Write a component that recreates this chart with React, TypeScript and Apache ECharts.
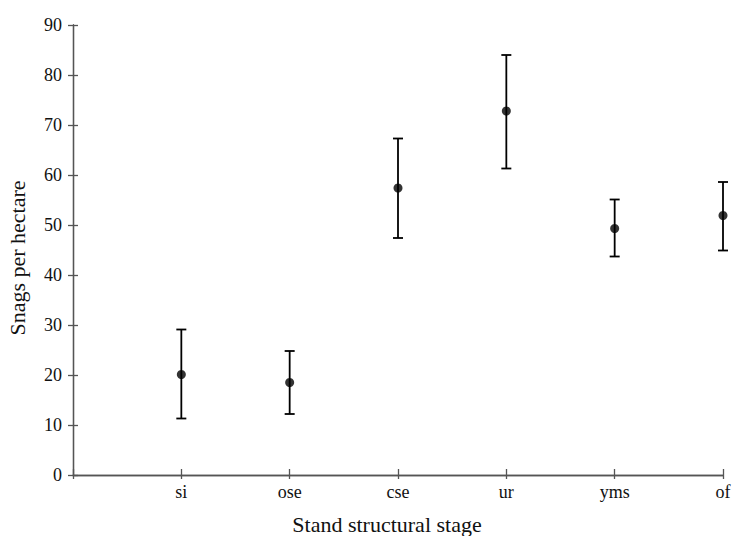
import React, { useEffect, useRef } from "react";
import * as echarts from "echarts";

const categories = ["", "si", "ose", "cse", "ur", "yms", "of"];
const stages = ["si", "ose", "cse", "ur", "yms", "of"];
const means = [20.1, 18.5, 57.4, 72.8, 49.3, 51.9];
const lows = [11.3, 12.2, 47.4, 61.3, 43.7, 44.9];
const highs = [29.1, 24.8, 67.3, 84.0, 55.1, 58.6];
const yTicks = [0, 10, 20, 30, 40, 50, 60, 70, 80, 90];

const FONT = "Liberation Serif";
const AXIS_COLOR = "#555";

export default function App() {
  const ref = useRef<HTMLDivElement>(null);
  useEffect(() => {
    if (!ref.current) return;
    const chart = echarts.init(ref.current, undefined, { renderer: "svg" });
    const idx = stages.map((s) => categories.indexOf(s));
    const errData = idx.map((x, i) => [x, lows[i], highs[i]]);
    const meanData = idx.map((x, i) => [x, means[i]]);
    const yMax = yTicks[yTicks.length - 1];
    const yInt = yTicks[1] - yTicks[0];

    const baseX = {
      type: "category" as const,
      data: categories,
      boundaryGap: false,
      position: "bottom" as const,
      axisLine: { show: true, lineStyle: { color: AXIS_COLOR, width: 1.3 } },
      splitLine: { show: false },
    };
    const baseY = {
      type: "value" as const,
      min: 0,
      max: yMax,
      interval: yInt,
      position: "left" as const,
      axisLine: { show: true, lineStyle: { color: AXIS_COLOR, width: 1.3 } },
      splitLine: { show: false },
    };

    chart.setOption({
      animation: false,
      backgroundColor: "#fff",
      grid: {
        left: 73,
        right: 12,
        top: 25,
        bottom: 61,
        containLabel: false,
        outerBoundsMode: "none",
      },
      xAxis: [
        {
          ...baseX,
          axisTick: { show: true, inside: false, length: 4, lineStyle: { color: AXIS_COLOR, width: 1.3 } },
          axisLabel: { show: true, color: "#111", fontFamily: FONT, fontSize: 18, margin: 8 },
          name: "Stand structural stage",
          nameLocation: "middle",
          nameGap: 38,
          nameTextStyle: { color: "#111", fontFamily: FONT, fontSize: 22, padding: [0, 22, 0, 0] },
        },
        {
          ...baseX,
          axisTick: { show: true, inside: true, length: 6, lineStyle: { color: AXIS_COLOR, width: 1.3 } },
          axisLabel: { show: false },
        },
      ],
      yAxis: [
        {
          ...baseY,
          axisTick: { show: true, inside: false, length: 5, lineStyle: { color: AXIS_COLOR, width: 1.3 } },
          axisLabel: { show: true, color: "#111", fontFamily: FONT, fontSize: 18, margin: 11 },
        },
        {
          ...baseY,
          axisTick: { show: true, inside: true, length: 5, lineStyle: { color: AXIS_COLOR, width: 1.3 } },
          axisLabel: { show: false },
        },
      ],
      graphic: [
        {
          type: "text",
          x: 17,
          y: 258,
          rotation: Math.PI / 2,
          style: {
            text: "Snags per hectare",
            fill: "#111",
            fontFamily: FONT,
            fontSize: 22,
            align: "center",
            verticalAlign: "middle",
          },
        },
      ],
      series: [
        {
          type: "custom",
          xAxisIndex: 0,
          yAxisIndex: 0,
          data: errData,
          renderItem: (params: any, api: any) => {
            const x = api.value(0);
            const lo = api.coord([x, api.value(1)]);
            const hi = api.coord([x, api.value(2)]);
            const hw = 5;
            const style = { stroke: "#000", lineWidth: 1.8 };
            return {
              type: "group",
              children: [
                { type: "line", shape: { x1: lo[0], y1: lo[1], x2: hi[0], y2: hi[1] }, style },
                { type: "line", shape: { x1: lo[0] - hw, y1: lo[1], x2: lo[0] + hw, y2: lo[1] }, style },
                { type: "line", shape: { x1: hi[0] - hw, y1: hi[1], x2: hi[0] + hw, y2: hi[1] }, style },
              ],
            };
          },
          z: 3,
        },
        {
          type: "scatter",
          xAxisIndex: 0,
          yAxisIndex: 0,
          data: meanData,
          symbol: "circle",
          symbolSize: 9,
          itemStyle: { color: "#000" },
          z: 4,
        },
      ],
    });
    return () => chart.dispose();
  }, []);
  return <div ref={ref} style={{ width: 735, height: 536, position: "absolute", left: 0, top: 0 }} />;
}
